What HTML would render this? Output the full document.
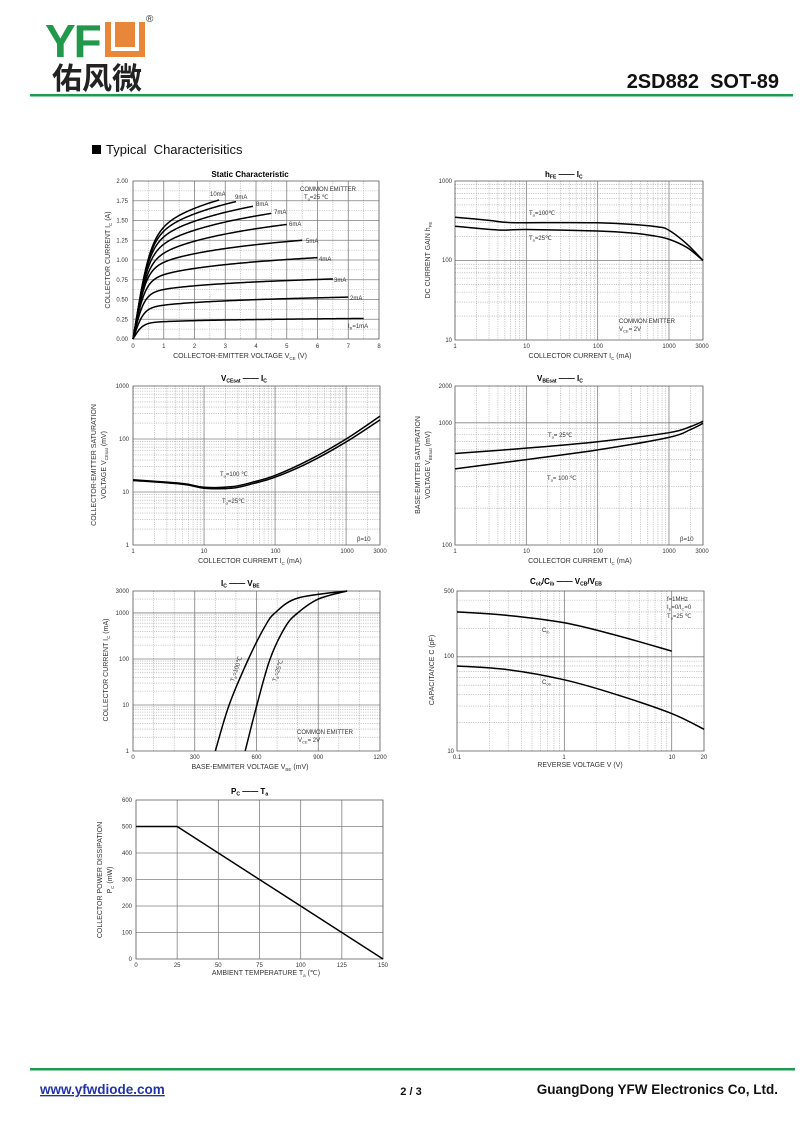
<!DOCTYPE html>
<html><head><meta charset="utf-8"><style>
html,body{margin:0;padding:0;background:#fff;}
svg{display:block;}
text{font-family:"Liberation Sans",Arial,sans-serif;fill:#333;}
.t{font-size:6px;}
.a{font-size:7px;}
.h{font-size:8px;font-weight:bold;fill:#000;}
</style></head><body>
<svg id="s" width="800" height="1130" viewBox="0 0 800 1130" xmlns="http://www.w3.org/2000/svg">
<!-- header -->
<text x="45" y="57" style="font-size:46px;font-weight:bold;fill:#22994a;letter-spacing:-2px">YF</text>
<rect x="105" y="22" width="40" height="35" fill="#e8873a"/>
<path d="M113 22 V49 H137 V22" fill="none" stroke="#fff" stroke-width="4"/>
<text x="146" y="22" style="font-size:10px;fill:#333">®</text>
<text x="52" y="89" style="font-size:30px;font-weight:bold;fill:#222;font-family:'Liberation Sans','Noto Sans CJK SC',sans-serif">佑风微</text>
<rect x="30" y="94" width="763" height="2.5" fill="#1f9a52"/>
<text x="779" y="88" text-anchor="end" style="font-size:20px;font-weight:bold;fill:#111">2SD882&#160;&#160;SOT-89</text>
<rect x="92" y="145" width="9" height="9" fill="#000"/>
<text x="106" y="154" style="font-size:13px;fill:#111">Typical&#160;&#160;Characterisitics</text>
<!-- footer -->
<rect x="30" y="1068" width="765" height="2.5" fill="#1f9a52"/>
<text x="40" y="1094" style="font-size:13.5px;font-weight:bold;fill:#2233aa;text-decoration:underline">www.yfwdiode.com</text>
<text x="411" y="1095" text-anchor="middle" style="font-size:11px;font-weight:bold;fill:#111">2 / 3</text>
<text x="778" y="1094" text-anchor="end" style="font-size:13.5px;font-weight:bold;fill:#111">GuangDong YFW Electronics Co, Ltd.</text>

<g id="g"></g>

<!-- Chart 1 -->
<text class="h" x="250" y="177" text-anchor="middle">Static Characteristic</text>
<g class="t" text-anchor="middle">
<text x="133" y="348">0</text><text x="163.75" y="348">1</text><text x="194.5" y="348">2</text><text x="225.25" y="348">3</text><text x="256" y="348">4</text><text x="286.75" y="348">5</text><text x="317.5" y="348">6</text><text x="348.25" y="348">7</text><text x="379" y="348">8</text>
</g>
<g class="t" text-anchor="end">
<text x="128" y="341">0.00</text><text x="128" y="321.3">0.25</text><text x="128" y="301.5">0.50</text><text x="128" y="281.8">0.75</text><text x="128" y="262">1.00</text><text x="128" y="242.3">1.25</text><text x="128" y="222.5">1.50</text><text x="128" y="202.8">1.75</text><text x="128" y="183">2.00</text>
</g>
<text class="a" x="240" y="358" text-anchor="middle">COLLECTOR-EMITTER VOLTAGE   V<tspan style="font-size:4.5px" dy="2">CE</tspan><tspan dy="-2">   (V)</tspan></text>
<text class="a" transform="translate(110,260) rotate(-90)" text-anchor="middle">COLLECTOR CURRENT   I<tspan style="font-size:4.5px" dy="2">C</tspan><tspan dy="-2">   (A)</tspan></text>
<g class="t">
<text x="300" y="191">COMMON EMITTER</text><text x="304" y="199">T<tspan style="font-size:4px" dy="1.5">a</tspan><tspan dy="-1.5">=25 ℃</tspan></text>
<text x="210" y="196">10mA</text><text x="235" y="199">9mA</text><text x="256" y="206">8mA</text><text x="274" y="214">7mA</text><text x="289" y="226">6mA</text><text x="306" y="243">5mA</text><text x="319" y="261">4mA</text><text x="334" y="282">3mA</text><text x="350" y="300">2mA</text><text x="348" y="328">I<tspan style="font-size:4px" dy="1.5">B</tspan><tspan dy="-1.5">=1mA</tspan></text>
</g>

<!-- Chart 2 -->
<text class="h" x="545" y="177">h<tspan style="font-size:5px" dy="1.5">FE</tspan><tspan dy="-1.5">      ——      I</tspan><tspan style="font-size:5px" dy="1.5">C</tspan></text>
<g class="t" text-anchor="middle"><text x="455" y="348">1</text><text x="526.5" y="348">10</text><text x="598" y="348">100</text><text x="669" y="348">1000</text><text x="702" y="348">3000</text></g>
<g class="t" text-anchor="end"><text x="452" y="183">1000</text><text x="452" y="262">100</text><text x="452" y="342">10</text></g>
<text class="a" x="580" y="358" text-anchor="middle">COLLECTOR CURRENT    I<tspan style="font-size:4.5px" dy="2">C</tspan><tspan dy="-2">   (mA)</tspan></text>
<text class="a" transform="translate(430,260) rotate(-90)" text-anchor="middle">DC CURRENT GAIN    h<tspan style="font-size:4.5px" dy="2">FE</tspan></text>
<g class="t"><text x="529" y="215">T<tspan style="font-size:4px" dy="1.5">a</tspan><tspan dy="-1.5">=100℃</tspan></text><text x="529" y="240">T<tspan style="font-size:4px" dy="1.5">a</tspan><tspan dy="-1.5">=25℃</tspan></text>
<text x="619" y="323">COMMON EMITTER</text><text x="619" y="331">V<tspan style="font-size:4px" dy="1.5">CE</tspan><tspan dy="-1.5">= 2V</tspan></text></g>

<!-- Chart 3 -->
<text class="h" x="221" y="381">V<tspan style="font-size:5px" dy="1.5">CEsat</tspan><tspan dy="-1.5">      ——      I</tspan><tspan style="font-size:5px" dy="1.5">C</tspan></text>
<g class="t" text-anchor="middle"><text x="133" y="553">1</text><text x="204" y="553">10</text><text x="275.5" y="553">100</text><text x="347" y="553">1000</text><text x="380" y="553">3000</text></g>
<g class="t" text-anchor="end"><text x="129" y="388">1000</text><text x="129" y="441">100</text><text x="129" y="494">10</text><text x="129" y="547">1</text></g>
<text class="a" x="250" y="563" text-anchor="middle">COLLECTOR CURREMT    I<tspan style="font-size:4.5px" dy="2">C</tspan><tspan dy="-2">   (mA)</tspan></text>
<text class="a" transform="translate(96,465) rotate(-90)" text-anchor="middle">COLLECTOR-EMITTER SATURATION</text>
<text class="a" transform="translate(106,465) rotate(-90)" text-anchor="middle">VOLTAGE    V<tspan style="font-size:4.5px" dy="2">CEsat</tspan><tspan dy="-2">   (mV)</tspan></text>
<g class="t"><text x="220" y="476">T<tspan style="font-size:4px" dy="1.5">a</tspan><tspan dy="-1.5">=100 ℃</tspan></text><text x="222" y="503">T<tspan style="font-size:4px" dy="1.5">a</tspan><tspan dy="-1.5">=25℃</tspan></text><text x="357" y="541">β=10</text></g>

<!-- Chart 4 -->
<text class="h" x="537" y="381">V<tspan style="font-size:5px" dy="1.5">BEsat</tspan><tspan dy="-1.5">      ——      I</tspan><tspan style="font-size:5px" dy="1.5">C</tspan></text>
<g class="t" text-anchor="middle"><text x="455" y="553">1</text><text x="526.5" y="553">10</text><text x="598" y="553">100</text><text x="669" y="553">1000</text><text x="702" y="553">3000</text></g>
<g class="t" text-anchor="end"><text x="452" y="388">2000</text><text x="452" y="425">1000</text><text x="452" y="547">100</text></g>
<text class="a" x="580" y="563" text-anchor="middle">COLLECTOR CURREMT    I<tspan style="font-size:4.5px" dy="2">C</tspan><tspan dy="-2">   (mA)</tspan></text>
<text class="a" transform="translate(420,465) rotate(-90)" text-anchor="middle">BASE-EMITTER SATURATION</text>
<text class="a" transform="translate(430,465) rotate(-90)" text-anchor="middle">VOLTAGE    V<tspan style="font-size:4.5px" dy="2">BEsat</tspan><tspan dy="-2">   (mV)</tspan></text>
<g class="t"><text x="548" y="437">T<tspan style="font-size:4px" dy="1.5">a</tspan><tspan dy="-1.5">= 25℃</tspan></text><text x="547" y="480">T<tspan style="font-size:4px" dy="1.5">a</tspan><tspan dy="-1.5">= 100 ℃</tspan></text><text x="680" y="541">β=10</text></g>

<!-- Chart 5 -->
<text class="h" x="221" y="586">I<tspan style="font-size:5px" dy="1.5">C</tspan><tspan dy="-1.5">      ——      V</tspan><tspan style="font-size:5px" dy="1.5">BE</tspan></text>
<g class="t" text-anchor="middle"><text x="133" y="759">0</text><text x="194.75" y="759">300</text><text x="256.5" y="759">600</text><text x="318.25" y="759">900</text><text x="380" y="759">1200</text></g>
<g class="t" text-anchor="end"><text x="129" y="593">3000</text><text x="129" y="615">1000</text><text x="129" y="661">100</text><text x="129" y="707">10</text><text x="129" y="753">1</text></g>
<text class="a" x="250" y="769" text-anchor="middle">BASE-EMMITER VOLTAGE   V<tspan style="font-size:4.5px" dy="2">BE</tspan><tspan dy="-2">  (mV)</tspan></text>
<text class="a" transform="translate(108,670) rotate(-90)" text-anchor="middle">COLLECTOR CURRENT    I<tspan style="font-size:4.5px" dy="2">C</tspan><tspan dy="-2">   (mA)</tspan></text>
<g class="t"><text transform="translate(234,682) rotate(-72)">T<tspan style="font-size:4px" dy="1.5">a</tspan><tspan dy="-1.5">=100℃</tspan></text><text transform="translate(276,682) rotate(-72)">T<tspan style="font-size:4px" dy="1.5">a</tspan><tspan dy="-1.5">=25℃</tspan></text>
<text x="297" y="734">COMMON EMITTER</text><text x="298" y="742">V<tspan style="font-size:4px" dy="1.5">CE</tspan><tspan dy="-1.5">= 2V</tspan></text></g>

<!-- Chart 6 -->
<text class="h" x="530" y="584">C<tspan style="font-size:5px" dy="1.5">ob</tspan><tspan dy="-1.5">/C</tspan><tspan style="font-size:5px" dy="1.5">ib</tspan><tspan dy="-1.5">      ——      V</tspan><tspan style="font-size:5px" dy="1.5">CB</tspan><tspan dy="-1.5">/V</tspan><tspan style="font-size:5px" dy="1.5">EB</tspan></text>
<g class="t" text-anchor="middle"><text x="457" y="759">0.1</text><text x="564" y="759">1</text><text x="672" y="759">10</text><text x="704" y="759">20</text></g>
<g class="t" text-anchor="end"><text x="454" y="593">500</text><text x="454" y="658">100</text><text x="454" y="753">10</text></g>
<text class="a" x="580" y="767" text-anchor="middle">REVERSE  VOLTAGE    V    (V)</text>
<text class="a" transform="translate(434,670) rotate(-90)" text-anchor="middle">CAPACITANCE    C    (pF)</text>
<g class="t"><text x="667" y="601">f=1MHz</text><text x="667" y="609">I<tspan style="font-size:4px" dy="1.5">E</tspan><tspan dy="-1.5">=0/I</tspan><tspan style="font-size:4px" dy="1.5">C</tspan><tspan dy="-1.5">=0</tspan></text><text x="667" y="618">T<tspan style="font-size:4px" dy="1.5">a</tspan><tspan dy="-1.5">=25 ℃</tspan></text>
<text x="542" y="632">C<tspan style="font-size:4px" dy="1.5">ib</tspan></text><text x="542" y="684">C<tspan style="font-size:4px" dy="1.5">ob</tspan></text></g>

<!-- Chart 7 -->
<text class="h" x="231" y="794">P<tspan style="font-size:5px" dy="1.5">C</tspan><tspan dy="-1.5">      ——      T</tspan><tspan style="font-size:5px" dy="1.5">a</tspan></text>
<g class="t" text-anchor="middle"><text x="136" y="967">0</text><text x="177.2" y="967">25</text><text x="218.3" y="967">50</text><text x="259.5" y="967">75</text><text x="300.7" y="967">100</text><text x="341.8" y="967">125</text><text x="383" y="967">150</text></g>
<g class="t" text-anchor="end"><text x="132" y="802">600</text><text x="132" y="828.5">500</text><text x="132" y="855">400</text><text x="132" y="881.5">300</text><text x="132" y="908">200</text><text x="132" y="934.5">100</text><text x="132" y="961">0</text></g>
<text class="a" x="266" y="975" text-anchor="middle">AMBIENT TEMPERATURE    T<tspan style="font-size:4.5px" dy="2">a</tspan><tspan dy="-2">    (℃)</tspan></text>
<text class="a" transform="translate(102,880) rotate(-90)" text-anchor="middle">COLLECTOR POWER DISSIPATION</text>
<text class="a" transform="translate(112,880) rotate(-90)" text-anchor="middle">P<tspan style="font-size:4.5px" dy="2">C</tspan><tspan dy="-2">    (mW)</tspan></text>
</svg>
<script>
var G=document.getElementById('g'),NS='http://www.w3.org/2000/svg';
function el(d,st){var p=document.createElementNS(NS,'path');p.setAttribute('d',d);for(var k in st)p.setAttribute(k,st[k]);G.appendChild(p);}
function lin(a,b,p0,p1){return function(v){return p0+(v-a)/(b-a)*(p1-p0);};}
function lg(a,b,p0,p1){return function(v){return p0+(Math.log(v)-Math.log(a))/(Math.log(b)-Math.log(a))*(p1-p0);};}
var MAJ={stroke:'#808080','stroke-width':0.8,fill:'none'},MIN={stroke:'#999','stroke-width':0.6,'stroke-dasharray':'1 1.3',fill:'none'},CUR={stroke:'#000','stroke-width':1.5,fill:'none','stroke-linejoin':'round'};
function logTicks(a,b){var r=[];for(var d=-3;d<5;d++)for(var k=1;k<10;k++){var v=k*Math.pow(10,d);if(v>a*1.0001&&v<b*0.9999)r.push([v,k==1]);}return r;}
function linTicks(a,b,maj,min){var r=[];for(var v=a+min;v<b-1e-9;v+=min){r.push([v,Math.abs(v/maj-Math.round(v/maj))<1e-6]);}return r;}
function chart(c){
 c.xt.forEach(function(t){var x=c.X(t[0]);el('M'+x+' '+c.y0+'V'+c.y1,t[1]?MAJ:MIN);});
 c.yt.forEach(function(t){var y=c.Y(t[0]);el('M'+c.x0+' '+y+'H'+c.x1,t[1]?MAJ:MIN);});
 el('M'+c.x0+' '+c.y0+'H'+c.x1+'V'+c.y1+'H'+c.x0+'Z',{stroke:'#555','stroke-width':0.8,fill:'none'});
}
function curve(c,pts){
 var P=pts.map(function(p){return [c.X(p[0]),c.Y(p[1])];});
 var d='M'+P[0][0].toFixed(2)+' '+P[0][1].toFixed(2);
 for(var i=0;i<P.length-1;i++){var p0=P[i-1]||P[i],p1=P[i],p2=P[i+1],p3=P[i+2]||P[i+1];
  var c1=[p1[0]+(p2[0]-p0[0])/6,p1[1]+(p2[1]-p0[1])/6],c2=[p2[0]-(p3[0]-p1[0])/6,p2[1]-(p3[1]-p1[1])/6];
  d+='C'+c1[0].toFixed(2)+' '+c1[1].toFixed(2)+' '+c2[0].toFixed(2)+' '+c2[1].toFixed(2)+' '+p2[0].toFixed(2)+' '+p2[1].toFixed(2);}
 el(d,CUR);
}
var c1={x0:133,x1:379,y0:181,y1:339};c1.X=lin(0,8,133,379);c1.Y=lin(0,2,339,181);
c1.xt=linTicks(0,8,1,0.5);c1.yt=linTicks(0,2,0.25,0.125);chart(c1);
var S=[[0.22,7.5,0.26],[0.43,7,0.53],[0.63,6.5,0.76],[0.82,6,1.03],[0.98,5.5,1.25],[1.10,5,1.45],[1.22,4.5,1.59],[1.32,3.9,1.68],[1.40,3.35,1.74],[1.46,2.8,1.76]];
S.forEach(function(s,i){var A=s[0],Ve=s[1],E=s[2],v0=0.3+i*0.02,pts=[];
 for(var v=0;v<=Ve+1e-9;v+=Ve/120){var base=A+(E-A)*(Math.log(v+0.5)-Math.log(1.5))/(Math.log(Ve+0.5)-Math.log(1.5));var I=Math.tanh(v/v0)*base;pts.push(c1.X(v).toFixed(2)+' '+c1.Y(I).toFixed(2));}
 el('M'+pts.join('L'),CUR);});
var c2={x0:455,x1:703,y0:181,y1:340};c2.X=lg(1,3000,455,703);c2.Y=lg(10,1000,340,181);
c2.xt=logTicks(1,3000);c2.yt=logTicks(10,1000);chart(c2);
curve(c2,[[1,350],[3,320],[6,300],[30,300],[100,298],[300,285],[700,265],[1000,240],[1800,160],[3000,100]]);
curve(c2,[[1,270],[4,242],[10,245],[100,235],[300,222],[600,205],[1000,185],[1800,145],[3000,100]]);
var c3={x0:133,x1:380,y0:386,y1:545};c3.X=lg(1,3000,133,380);c3.Y=lg(1,1000,545,386);
c3.xt=logTicks(1,3000);c3.yt=logTicks(1,1000);chart(c3);
curve(c3,[[1,17],[5,14.5],[10,12.3],[25,12.6],[50,15.5],[100,20.5],[300,40],[1000,100],[3000,270]]);
curve(c3,[[1,16.5],[5,14],[10,11.8],[25,11.8],[50,14.5],[100,19],[300,36],[1000,88],[3000,230]]);
var c4={x0:455,x1:703,y0:386,y1:545};c4.X=lg(1,3000,455,703);c4.Y=lg(100,2000,545,386);
c4.xt=logTicks(1,3000);c4.yt=logTicks(100,2000);chart(c4);
curve(c4,[[1,560],[10,620],[100,700],[1000,830],[2000,930],[3000,1030]]);
curve(c4,[[1,420],[10,500],[100,600],[1000,760],[2000,880],[3000,990]]);
var c5={x0:133,x1:380,y0:591,y1:751};c5.X=lin(0,1200,133,380);c5.Y=lg(1,3000,751,591);
c5.xt=linTicks(0,1200,300,100);c5.yt=logTicks(1,3000);chart(c5);
curve(c5,[[400,1],[467,10],[561,100],[640,500],[690,1000],[800,2100],[1040,3000]]);
curve(c5,[[545,1],[602,10],[666,100],[740,500],[800,1000],[900,2000],[1040,3000]]);
var c6={x0:457,x1:704,y0:591,y1:751};c6.X=lg(0.1,20,457,704);c6.Y=lg(10,500,751,591);
c6.xt=logTicks(0.1,20);c6.yt=logTicks(10,500);chart(c6);
curve(c6,[[0.1,300],[0.3,275],[1,230],[3,170],[10,115]]);
curve(c6,[[0.1,80],[0.3,73],[1,57],[3,40],[10,25],[20,17]]);
var c7={x0:136,x1:383,y0:800,y1:959};c7.X=lin(0,150,136,383);c7.Y=lin(0,600,959,800);
c7.xt=linTicks(0,150,25,25);c7.yt=linTicks(0,600,100,100);chart(c7);
el('M'+c7.X(0)+' '+c7.Y(500)+'L'+c7.X(25)+' '+c7.Y(500)+'L'+c7.X(150)+' '+c7.Y(0),CUR);
</script>
</body></html>
